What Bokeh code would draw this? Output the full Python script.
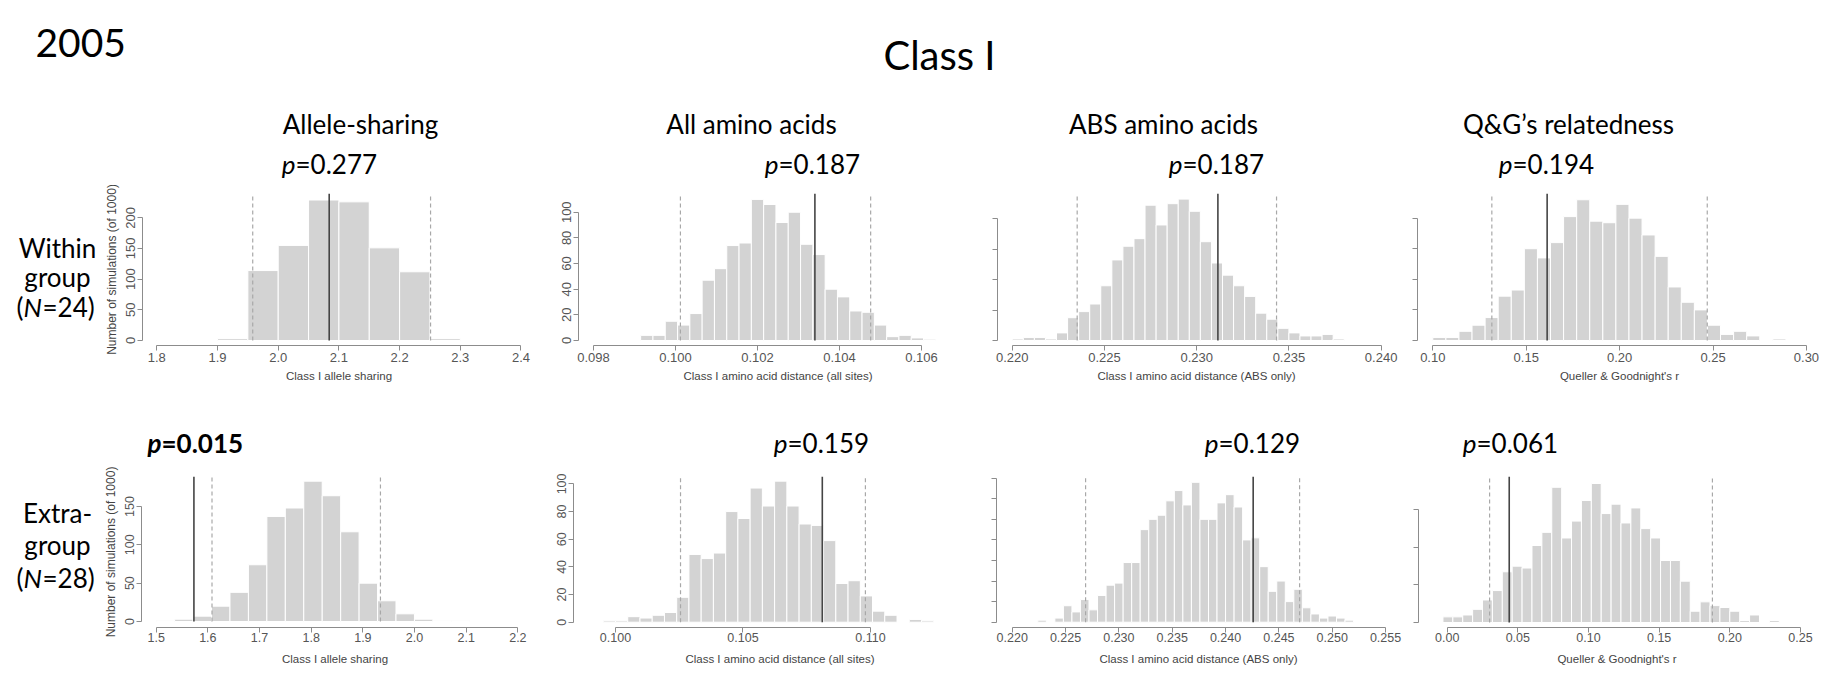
from bokeh.plotting import figure
from bokeh.layouts import column, row
from bokeh.models import Range1d, FixedTicker, PrintfTickFormatter
from bokeh.core.properties import value
from bokeh.embed import file_html
from bokeh.resources import INLINE

# ---------------- data ----------------
column_titles = ["Allele-sharing", "All amino acids", "ABS amino acids", "Q&G\u2019s relatedness"]
x_titles = ["Class I allele sharing", "Class I amino acid distance (all sites)",
            "Class I amino acid distance (ABS only)", "Queller & Goodnight's r"]
y_title = "Number of simulations (of 1000)"
p_within = ["0.277", "0.187", "0.187", "0.194"]
p_extra = ["0.015", "0.159", "0.129", "0.061"]

# Within group (N=24)
w_allele_start, w_allele_width = 1.80, 0.05
w_allele_counts = [1, 1, 3, 114, 155, 229, 226, 151, 112, 3]
w_allele_lines = [1.958, 2.251, 2.084]          # lower 95%, upper 95%, observed

w_allaa_start, w_allaa_width = 0.09915, 0.0003
w_allaa_counts = [4, 4, 15, 12, 21, 47, 56, 74, 76, 110, 106, 92, 100, 75, 67, 40, 34, 23, 22, 12, 3, 4, 2, 1]
w_allaa_lines = [0.10012, 0.10476, 0.10340]

w_abs_start, w_abs_width = 0.2200, 0.0006
w_abs_counts = [1, 2, 2, 1, 5, 15, 19, 24, 36, 53, 62, 67, 89, 76, 90, 93, 85, 65, 51, 43, 36, 29, 18, 14, 8, 5, 3, 3, 4, 1]
w_abs_lines = [0.22352, 0.23433, 0.23115]

w_qg_start, w_qg_width = 0.100, 0.007
w_qg_counts = [2, 2, 6, 10, 15, 29, 33, 60, 54, 64, 81, 92, 78, 77, 89, 80, 69, 55, 35, 25, 20, 10, 4, 6, 3, 0, 1]
w_qg_lines = [0.1316, 0.2469, 0.1612]

# Extra-group (N=28)
e_allele_start, e_allele_width = 1.50, 0.0357
e_allele_counts = [1, 3, 7, 20, 38, 74, 137, 148, 183, 164, 117, 50, 27, 10, 3, 1, 1]
e_allele_lines = [1.608, 1.934, 1.573]

e_allaa_start, e_allaa_width = 0.09952, 0.00048
e_allaa_counts = [1, 1, 4, 3, 5, 7, 18, 49, 46, 50, 80, 75, 97, 84, 102, 84, 71, 70, 59, 28, 30, 19, 8, 5, 0, 2, 1]
e_allaa_lines = [0.10255, 0.10980, 0.10811]

e_abs_start, e_abs_width = 0.2224, 0.0008
e_abs_counts = [1, 0, 2, 8, 5, 11, 6, 13, 18, 19, 29, 29, 45, 50, 52, 59, 64, 57, 68, 50, 50, 58, 62, 56, 40, 41, 27, 15, 20, 10, 16, 7, 4, 2, 3, 2, 1]
e_abs_lines = [0.22688, 0.24694, 0.24259]

e_qg_start, e_qg_width = -0.003, 0.007
e_qg_counts = [3, 3, 4, 7, 12, 17, 27, 30, 29, 41, 48, 72, 45, 54, 65, 74, 58, 63, 53, 61, 50, 45, 33, 33, 22, 6, 11, 9, 8, 6, 1, 4, 0, 1]
e_qg_lines = [0.030, 0.1877, 0.0439]

# tick values
xt_allele_w = [1.8, 1.9, 2.0, 2.1, 2.2, 2.3, 2.4]
xt_allaa_w = [0.098, 0.100, 0.102, 0.104, 0.106]
xt_abs_w = [0.220, 0.225, 0.230, 0.235, 0.240]
xt_qg_w = [0.10, 0.15, 0.20, 0.25, 0.30]
xt_allele_e = [1.5, 1.6, 1.7, 1.8, 1.9, 2.0, 2.1, 2.2]
xt_allaa_e = [0.100, 0.105, 0.110]
xt_abs_e = [0.220, 0.225, 0.230, 0.235, 0.240, 0.245, 0.250, 0.255]
xt_qg_e = [0.00, 0.05, 0.10, 0.15, 0.20, 0.25]

yt_w = [[0, 50, 100, 150, 200], [0, 20, 40, 60, 80, 100], [0, 20, 40, 60, 80], [0, 20, 40, 60, 80]]
yt_e = [[0, 50, 100, 150], [0, 20, 40, 60, 80, 100], [0, 10, 20, 30, 40, 50, 60, 70], [0, 20, 40, 60]]

AXIS_FONT = "Liberation Sans"
HEAD_FONT = "Lato"
BAR = "#d3d3d3"
AXIS_COL = "#8c8c8c"
LAB_COL = "#555555"


def panel(counts, start, width, lines, xticks, xfmt, yticks, xlabel, ylabel, ylabels_on,
          xr, yr, fw, fh, bl, br, bt, bb, row2):
    p = figure(frame_width=fw, frame_height=fh, min_border_left=bl, min_border_right=br,
               min_border_top=bt, min_border_bottom=bb, x_range=Range1d(*xr), y_range=Range1d(*yr),
               output_backend="svg", toolbar_location=None, tools="", title=None)
    edges = [start + i * width for i in range(len(counts) + 1)]
    p.quad(left=edges[:-1], right=edges[1:], bottom=0, top=counts,
           fill_color=BAR, line_color="white", line_width=1)
    top = yr[1]
    lo, hi, obs = lines
    p.segment(x0=[lo, hi], x1=[lo, hi], y0=[0, 0], y1=[top, top],
              line_color="#a8a8a8", line_dash="4 3", line_width=1.2)
    p.segment(x0=[obs], x1=[obs], y0=[0], y1=[top], line_color="#454545", line_width=1.6)

    p.grid.visible = False
    p.outline_line_color = None
    p.background_fill_color = "white"
    p.border_fill_color = "white"

    tick_font = "12.5px" if row2 else "13px"
    xa = p.xaxis[0]
    xa.ticker = FixedTicker(ticks=xticks)
    xa.formatter = PrintfTickFormatter(format=xfmt)
    xa.bounds = (xticks[0], xticks[-1])
    xa.minor_tick_line_color = None
    xa.major_tick_in = 0
    xa.major_tick_out = 5
    xa.axis_line_color = AXIS_COL
    xa.major_tick_line_color = AXIS_COL
    xa.major_label_text_font = AXIS_FONT
    xa.major_label_text_font_size = tick_font
    xa.major_label_text_color = LAB_COL
    xa.major_label_standoff = 0 if row2 else 2
    xa.axis_label = xlabel
    xa.axis_label_text_font = AXIS_FONT
    xa.axis_label_text_font_size = "11.5px"
    xa.axis_label_text_font_style = "normal"
    xa.axis_label_text_color = "#444444"
    xa.axis_label_standoff = 8 if row2 else 5

    ya = p.yaxis[0]
    ya.ticker = FixedTicker(ticks=yticks)
    ya.bounds = (yticks[0], yticks[-1])
    ya.minor_tick_line_color = None
    ya.major_tick_in = 0
    ya.major_tick_out = 5
    ya.axis_line_color = AXIS_COL
    ya.major_tick_line_color = AXIS_COL
    ya.major_label_text_font = AXIS_FONT
    ya.major_label_text_font_size = tick_font
    ya.major_label_text_color = LAB_COL
    if ylabels_on:
        ya.major_label_orientation = "vertical"
        ya.major_label_standoff = 2
    else:
        ya.major_label_overrides = {t: "" for t in yticks}
        ya.major_label_standoff = 0
    if ylabel:
        ya.axis_label = ylabel
        ya.axis_label_text_font = AXIS_FONT
        ya.axis_label_text_font_size = "12px"
        ya.axis_label_text_font_style = "normal"
        ya.axis_label_text_color = "#444444"
        ya.axis_label_standoff = 5
    return p


def text_fig(w, x0, top, bottom, border_top=0, border_bottom=0):
    # frame spans page pixels top..bottom; ranges use page pixel coordinates
    p = figure(width=w, frame_height=bottom - top, x_range=Range1d(x0, x0 + w),
               y_range=Range1d(bottom, top),
               min_border_left=0, min_border_right=0,
               min_border_top=border_top, min_border_bottom=border_bottom,
               x_axis_location=None, y_axis_location=None,
               output_backend="svg", toolbar_location=None, tools="", title=None)
    p.grid.visible = False
    p.outline_line_color = None
    return p


def put(p, x, baseline, s, size_px, align="left", style="normal"):
    # glyph text is anchored a little lower than the given y, compensate
    p.text(x=[x], y=[baseline - 0.4 * size_px], text=[s], text_font=value(HEAD_FONT),
           text_font_size="%gpx" % size_px, text_align=align, text_baseline="alphabetic",
           text_color="black", text_font_style=style)


# ---------------- header ----------------
head = text_fig(1823, 0, 0, 185)
put(head, 35, 58, "2005", 39)
put(head, 939, 70, "Class I", 40, align="center")
for cx, t in zip([360, 751, 1163, 1568], column_titles):
    put(head, cx, 134, t, 26, align="center")
for sx, pv in zip([295, 778, 1182, 1512], p_within):
    put(head, sx, 174, "p", 26, align="right", style="italic")
    put(head, sx, 174, "=" + pv, 26)

mid = text_fig(1823, 0, 400, 462)
for i, (sx, pv) in enumerate(zip([161, 787, 1218, 1476], p_extra)):
    bold = (i == 0)
    put(mid, sx, 453, "p", 26, align="right", style="bold italic" if bold else "italic")
    put(mid, sx, 453, "=" + pv, 26, style="bold" if bold else "normal")

# row labels (frames aligned with the panel frames of each row)
RS = 26
lab1 = text_fig(98, 0, 193, 345, border_top=8, border_bottom=55)
put(lab1, 57, 258, "Within", RS, align="center")
put(lab1, 57, 287, "group", RS, align="center")
put(lab1, 23, 317, "(", RS, align="right")
put(lab1, 23, 317, "N", RS, style="italic")
put(lab1, 42, 317, "=24)", RS)

lab2 = text_fig(98, 0, 476, 627, border_top=14, border_bottom=47)
put(lab2, 57, 523, "Extra-", RS, align="center")
put(lab2, 57, 555, "group", RS, align="center")
put(lab2, 23, 588, "(", RS, align="right")
put(lab2, 23, 588, "N", RS, style="italic")
put(lab2, 42, 588, "=28)", RS)

# ---------------- panels ----------------
f1 = panel(w_allele_counts, w_allele_start, w_allele_width, w_allele_lines, xt_allele_w, "%.1f", yt_w[0],
           x_titles[0], y_title, True, (1.7764, 2.4239), (-8.15, 239.6), 393, 152, 44, 10, 8, 55, False)
f2 = panel(w_allaa_counts, w_allaa_start, w_allaa_width, w_allaa_lines, xt_allaa_w, "%.3f", yt_w[1],
           x_titles[1], None, True, (0.097634, 0.107366), (-3.9, 114.6), 399, 152, 33, 10, 8, 55, False)
f3 = panel(w_abs_counts, w_abs_start, w_abs_width, w_abs_lines, xt_abs_w, "%.3f", yt_w[2],
           x_titles[2], None, False, (0.21920, 0.24078), (-3.29, 96.7), 398, 152, 10, 11, 8, 55, False)
f4 = panel(w_qg_counts, w_qg_start, w_qg_width, w_qg_lines, xt_qg_w, "%.2f", yt_w[3],
           x_titles[3], None, False, (0.09181, 0.30805), (-3.27, 96.1), 404, 152, 11, 2, 8, 55, False)

f5 = panel(e_allele_counts, e_allele_start, e_allele_width, e_allele_lines, xt_allele_e, "%.1f", yt_e[0],
           x_titles[0], y_title, True, (1.47155, 2.22054), (-7.83, 189.1), 387, 151, 43, 18, 14, 47, True)
f6 = panel(e_allaa_counts, e_allaa_start, e_allaa_width, e_allaa_lines, xt_allaa_e, "%.3f", yt_e[1],
           x_titles[1], None, True, (0.098353, 0.114549), (-3.83, 105.35), 413, 151, 27, 0, 14, 47, True)
f7 = panel(e_abs_counts, e_abs_start, e_abs_width, e_abs_lines, xt_abs_e, "%.3f", yt_e[2],
           x_titles[2], None, False, (0.218528, 0.2564), (-2.58, 70.83), 404, 151, 10, 6, 14, 47, True)
f8 = panel(e_qg_counts, e_qg_start, e_qg_width, e_qg_lines, xt_qg_e, "%.2f", yt_e[3],
           x_titles[3], None, False, (-0.02031, 0.26065), (-2.66, 77.74), 397, 151, 12, 8, 14, 47, True)

layout = column(head, row(lab1, f1, f2, f3, f4), mid, row(lab2, f5, f6, f7, f8))

open("out.html", "w").write(file_html(layout, INLINE))
